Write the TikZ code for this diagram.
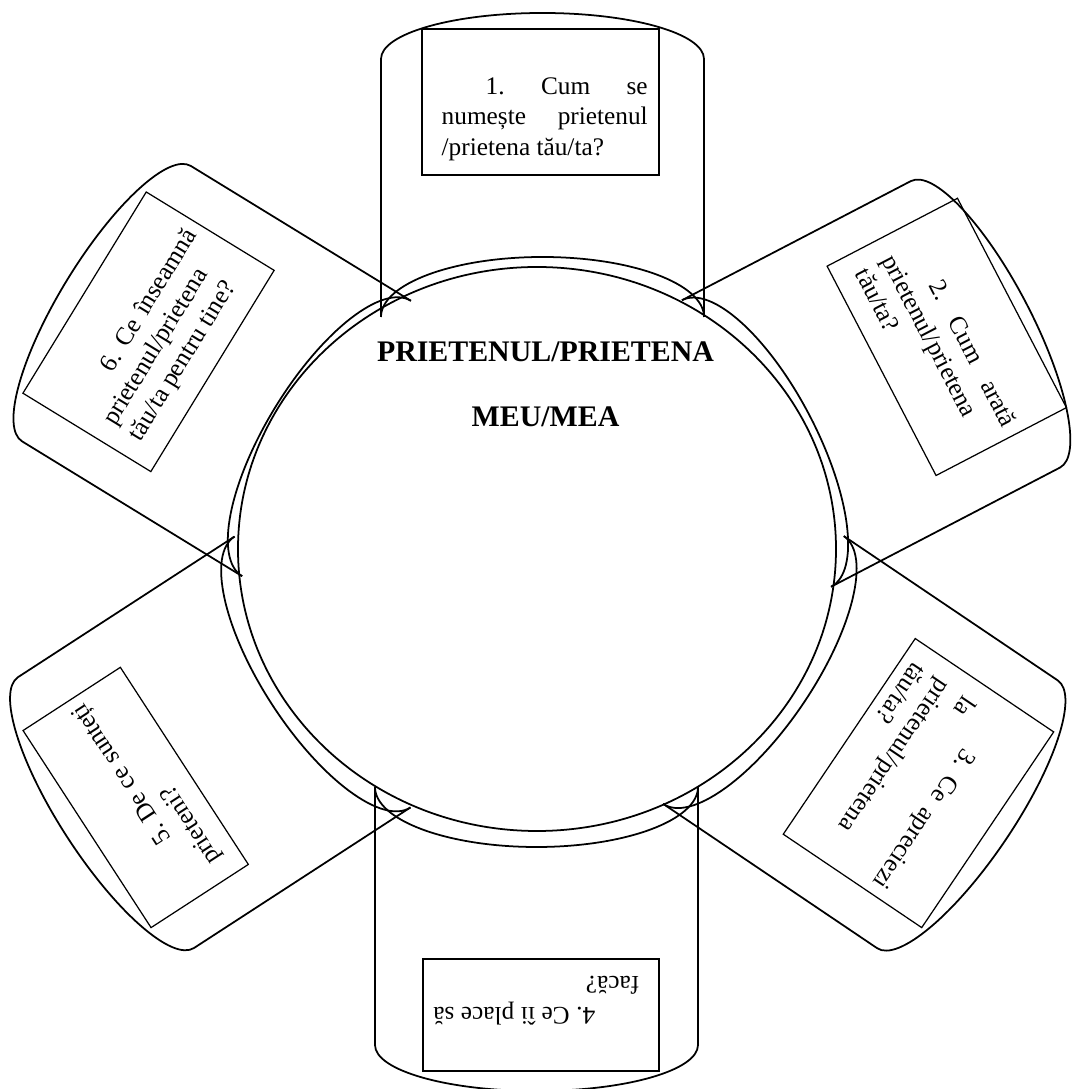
\documentclass[tikz,border=0pt]{standalone}
\usepackage{fontspec}
\setmainfont{Liberation Serif}
\usepackage{tikz}
\usetikzlibrary{shapes.geometric}
\tolerance=10000
\hyphenpenalty=10000
\hbadness=10000
\frenchspacing

\begin{document}
\begin{tikzpicture}[
            canline/.style={draw=black, line width=0.5pt},
            hub/.style={ellipse, draw=black, line width=0.5pt, minimum width=5.98cm, minimum height=5.64cm, inner sep=0pt},
            qbox/.style={rectangle, draw=black, line width=0.35pt, inner sep=0pt},
            qtext/.style={anchor=base west, inner sep=0pt, text width=2.06cm, align=justify, font=\fontsize{7.2pt}{8.54pt}\selectfont},
            titletext/.style={anchor=base, inner sep=0pt, font=\fontsize{8.5pt}{10pt}\selectfont\bfseries},
            can/.pic={
                \draw[canline] (-1.615,0) -- (-1.615,2.58)
                    arc[start angle=180, end angle=0, x radius=1.615, y radius=0.46] -- (1.615,0);
                \draw[canline] (-1.615,0) arc[start angle=180, end angle=0, x radius=1.615, y radius=0.6];
            }
        ]
        \useasboundingbox (-5.37,-5.40) rectangle (5.37,5.49);

        \node[hub] (hub) at (0,0) {};
        \node[titletext] (title) at (0.085,1.87) {PRIETENUL/PRIETENA};
        \node[titletext] (subtitle) at (0.085,1.225) {MEU/MEA};

        % 1 - top
        \begin{scope}[shift={(0.055,2.32)}, transform shape]
            \pic {can};
            \node[qbox, minimum width=2.37cm, minimum height=1.46cm] (box1) at (-0.02,2.15) {};
            \node[qtext] (q1) at (-1.015,2.22) {\hspace*{0.44cm}1. Cum se\linebreak numește prietenul\linebreak /prietena tău/ta?};
        \end{scope}

        % 2 - upper right
        \begin{scope}[shift={(2.195,1.055)}, rotate=-62.5, transform shape]
            \pic {can};
            \node[qbox, minimum width=2.36cm, minimum height=1.47cm] (box2) at (-0.067,2.18) {};
            \node[qtext] (q2) at (-1.057,2.255) {\hspace*{0.44cm}2. Cum arată\linebreak prietenul/prietena\linebreak tău/ta?};
        \end{scope}

        % 3 - lower right
        \begin{scope}[shift={(2.165,-1.21)}, rotate=-124, transform shape]
            \pic {can};
            \node[qbox, minimum width=2.36cm, minimum height=1.67cm] (box3) at (0.015,2.00) {};
            \node[qtext] (q3) at (-0.975,2.175) {\hspace*{0.44cm}3. Ce apreciezi\linebreak la\linebreak prietenul/prietena\linebreak tău/ta?};
        \end{scope}

        % 4 - bottom
        \begin{scope}[shift={(-0.005,-2.38)}, rotate=180, transform shape]
            \pic {can};
            \node[qbox, minimum width=2.36cm, minimum height=1.12cm] (box4) at (-0.045,2.28) {};
            \node[qtext] (q4) at (-1.035,2.20) {\hspace*{0.44cm}4. Ce îi place să\linebreak facă?};
        \end{scope}

        % 5 - lower left
        \begin{scope}[shift={(-2.145,-1.23)}, rotate=123, transform shape]
            \pic {can};
            \node[qbox, minimum width=2.35cm, minimum height=1.16cm] (box5) at (-0.035,2.25) {};
            \node[qtext] (q5) at (-1.02,2.17) {\hspace*{0.44cm}5. De ce sunteți\linebreak prieteni?};
        \end{scope}

        % 6 - upper left
        \begin{scope}[shift={(-2.105,1.105)}, rotate=58.5, transform shape]
            \pic {can};
            \node[qbox, minimum width=2.36cm, minimum height=1.50cm] (box6) at (-0.02,2.075) {};
            \node[qtext] (q6) at (-1.01,2.165) {\hspace*{0.44cm}6. Ce înseamnă\linebreak prietenul/prietena\linebreak tău/ta pentru tine?};
        \end{scope}

    \end{tikzpicture}
\end{document}
